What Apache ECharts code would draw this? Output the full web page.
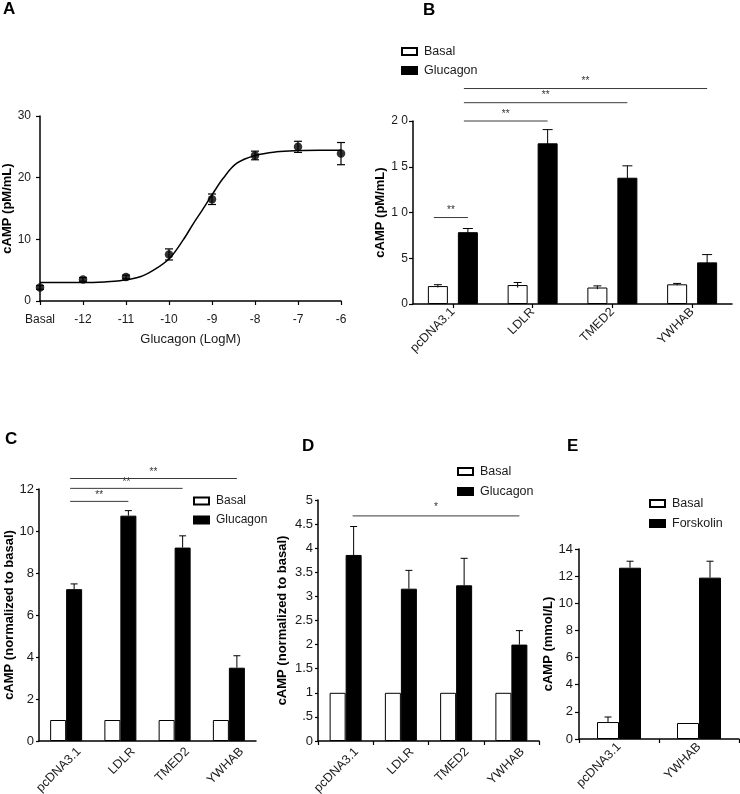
<!DOCTYPE html>
<html><head><meta charset="utf-8">
<script src="https://cdn.jsdelivr.net/npm/echarts/dist/echarts.min.js"></script>
<style>html,body{margin:0;padding:0;background:#fff}#c{width:740px;height:794px}</style>
</head><body><div id="c"></div>
<script>
// ---------- Panel A: dose response ----------
const doseA = [-13, -12, -11, -10, -9, -8, -7, -6];
const doseLabelsA = ['Basal', '-12', '-11', '-10', '-9', '-8', '-7', '-6'];
const meanA = [2.2, 3.5, 3.9, 7.55, 16.5, 23.6, 25.0, 23.9];
const semA = [0.3, 0.3, 0.3, 0.9, 0.85, 0.7, 0.9, 1.8];
const fitX = [-13, -12.5, -12, -11.5, -11.14, -10.67, -10.36, -9.99, -9.67, -9.43, -9.23, -9.0, -8.74, -8.43, -8.0, -7.5, -7.0, -6.5, -6.0];
const fitY = [3.0, 3.0, 3.0, 3.1, 3.29, 3.94, 5.0, 6.9, 9.9, 12.6, 14.7, 17.2, 19.9, 22.3, 23.6, 24.2, 24.4, 24.45, 24.45];

// ---------- Panel B ----------
const catsB = ['pcDNA3.1', 'LDLR', 'TMED2', 'YWHAB'];
const basalB = [1.96, 2.07, 1.8, 2.15];
const basalErrB = [0.15, 0.28, 0.18, 0.1];
const glucB = [7.85, 17.56, 13.8, 4.55];
const glucErrB = [0.4, 1.5, 1.3, 0.85];
const sigB = [[0, 0, 0, 1, 9.45, '**'], [0, 1, 1, 1, 20.0, '**'], [0, 1, 2, 1, 22.0, '**'], [0, 1, 3, 1, 23.55, '**']];

// ---------- Panel C ----------
const catsC = ['pcDNA3.1', 'LDLR', 'TMED2', 'YWHAB'];
const basalC = [1, 1, 1, 1];
const glucC = [7.23, 10.73, 9.21, 3.49];
const glucErrC = [0.25, 0.24, 0.56, 0.57];
const sigC = [[0, 1, 1, 1, 11.41, '**'], [0, 1, 2, 1, 12.03, '**'], [0, 1, 3, 1, 12.5, '**']];

// ---------- Panel D ----------
const catsD = ['pcDNA3.1', 'LDLR', 'TMED2', 'YWHAB'];
const basalD = [1, 1, 1, 1];
const glucD = [3.86, 3.16, 3.23, 2.0];
const glucErrD = [0.59, 0.38, 0.56, 0.29];
const sigD = [[0, 1, 3, 1, 4.67, '*']];

// ---------- Panel E ----------
const catsE = ['pcDNA3.1', 'YWHAB'];
const basalE = [1.25, 1.18];
const basalErrE = [0.37, 0];
const forskE = [12.62, 11.89];
const forskErrE = [0.48, 1.21];

const FONT = "'Liberation Sans', Arial, sans-serif";
const chart = echarts.init(document.getElementById('c'));

function axisLine() { return { show: true, lineStyle: { color: '#000', width: 1.5 } }; }
function tick(len, extra) { return Object.assign({ show: true, inside: false, length: len, lineStyle: { color: '#000', width: 1.2 } }, extra || {}); }

function yAx(g, min, max, interval, name, gap, fs, margin, tlen, fmt) {
  return {
    type: 'value', gridIndex: g, min: min, max: max, interval: interval,
    name: name, nameLocation: 'middle', nameGap: gap, nameRotate: 90,
    nameTextStyle: { fontFamily: FONT, fontWeight: 'bold', fontSize: 13, color: '#000' },
    axisLine: axisLine(), axisTick: tick(tlen), splitLine: { show: false },
    axisLabel: { fontFamily: FONT, fontSize: fs, color: '#1a1a1a', margin: margin, formatter: fmt }
  };
}
// lh: a tall line box with top alignment pushes rotated labels along their normal (down-right)
function xCat(g, cats, fs, tickOpt, margin, lh) {
  const lab = { fontFamily: FONT, fontSize: fs, color: '#1a1a1a', rotate: 45, margin: margin, interval: 0, overflow: 'none' };
  if (lh) { lab.verticalAlign = 'top'; lab.lineHeight = lh; }
  return {
    type: 'category', gridIndex: g, data: cats,
    axisLine: axisLine(), axisTick: tickOpt, splitLine: { show: false },
    axisLabel: lab
  };
}

function errSeries(g, means, errs, off, cap, twoSided) {
  return {
    type: 'custom', xAxisIndex: g, yAxisIndex: g, z: 5, clip: false, silent: true,
    data: means.map((m, i) => [i, m, errs[i]]),
    renderItem: function (params, api) {
      const i = api.value(0), m = api.value(1), e = api.value(2);
      if (!e) return null;
      const base = api.coord([i, m]);
      const x = base[0] + off;
      const yt = api.coord([i, m + e])[1];
      const yb = twoSided ? api.coord([i, m - e])[1] : base[1];
      const st = { stroke: '#000', lineWidth: 1 };
      return { type: 'group', children: [
        { type: 'line', shape: { x1: x, y1: yt, x2: x, y2: yb }, style: st },
        { type: 'line', shape: { x1: x - cap / 2, y1: yt, x2: x + cap / 2, y2: yt }, style: st }
      ] };
    }
  };
}

function sigSeries(g, sig, offs, fs, lift, ext) {
  return {
    type: 'custom', xAxisIndex: g, yAxisIndex: g, z: 6, clip: false, silent: true,
    data: sig.map(s => [s[0], s[4]]),
    renderItem: function (params, api) {
      const s = sig[params.dataIndex];
      const p1 = api.coord([s[0], s[4]]);
      const p2 = api.coord([s[2], s[4]]);
      const x1 = p1[0] + offs[s[1]] - ext, x2 = p2[0] + offs[s[3]];
      const y = p1[1];
      return { type: 'group', children: [
        { type: 'line', shape: { x1: x1, y1: y, x2: x2, y2: y }, style: { stroke: '#3a3a3a', lineWidth: 1 } },
        { type: 'text', style: { x: (x1 + x2) / 2, y: y - lift, text: s[5], align: 'center', verticalAlign: 'bottom', fontFamily: FONT, fontSize: fs, fill: '#333' } }
      ] };
    }
  };
}

const basalStyle = { color: '#fff', borderColor: '#000', borderWidth: 1 };
const blackStyle = { color: '#000', borderColor: '#000', borderWidth: 1 };

function legend(left, top, names, fs, gap) {
  return {
    left: left, top: top, orient: 'vertical', data: names, icon: 'rect',
    itemWidth: 15, itemHeight: 7, itemGap: gap, selectedMode: false, padding: 0,
    textStyle: { fontFamily: FONT, fontSize: fs, color: '#1a1a1a', padding: [0, 0, 0, 2] }
  };
}

function letter(t, left, top) {
  return { type: 'text', left: left, top: top, style: { text: t, font: 'bold 17px ' + FONT, fill: '#000' } };
}

const option = {
  animation: false,
  backgroundColor: '#fff',
  textStyle: { fontFamily: FONT },
  grid: [
    { left: 40, top: 116, width: 301, height: 185, outerBoundsMode: 'none' },
    { left: 413, top: 121, width: 319, height: 183, outerBoundsMode: 'none' },
    { left: 39, top: 489, width: 217, height: 252, outerBoundsMode: 'none' },
    { left: 318, top: 500, width: 221, height: 241, outerBoundsMode: 'none' },
    { left: 579, top: 549, width: 160, height: 190, outerBoundsMode: 'none' }
  ],
  xAxis: [
    {
      type: 'value', gridIndex: 0, min: -13, max: -6, interval: 1,
      name: 'Glucagon (LogM)', nameLocation: 'middle', nameGap: 32,
      nameTextStyle: { fontFamily: FONT, fontSize: 13, color: '#1a1a1a' },
      axisLine: axisLine(), axisTick: tick(4), splitLine: { show: false },
      axisLabel: { fontFamily: FONT, fontSize: 12, color: '#1a1a1a', margin: 13,
        formatter: v => doseLabelsA[doseA.indexOf(Math.round(v))] }
    },
    xCat(1, catsB, 12.5, tick(4, { alignWithLabel: true }), 6, 0),
    xCat(2, catsC, 12.5, { show: false }, -4, 36),
    xCat(3, catsD, 12.5, tick(4), -2, 31),
    xCat(4, catsE, 12.5, tick(4), 6, 0)
  ],
  yAxis: [
    yAx(0, 0, 30, 10, 'cAMP (pM/mL)', 22, 12, 9, 4),
    yAx(1, 0, 20, 5, 'cAMP (pM/mL)', 14, 12, 5, 4, v => v >= 10 ? String(v).split('').join(' ') : String(v)),
    yAx(2, 0, 12, 2, 'cAMP (normalized to basal)', 13, 13, 5, 3),
    yAx(3, 0, 5, 0.5, 'cAMP (normalized to basal)', 29, 13, 5, 3, v => v === 0.5 ? '.5' : String(v)),
    yAx(4, 0, 14, 2, 'cAMP (mmol/L)', 15, 13, 6, 4)
  ],
  legend: [
    legend(401, 45, ['Basal', 'Glucagon'], 12.5, 6),
    legend(193, 495, ['Basal', 'Glucagon'], 12, 7),
    legend(457, 465, ['Basal', 'Glucagon'], 12.5, 7),
    legend(649, 497, ['Basal', 'Forskolin'], 12.5, 7)
  ],
  graphic: [
    letter('A', 3, 1), letter('B', 423, 2), letter('C', 5, 431), letter('D', 302, 438), letter('E', 567, 438)
  ],
  series: [
    // A
    { type: 'line', name: 'fit', xAxisIndex: 0, yAxisIndex: 0, smooth: 0.35, showSymbol: false, silent: true,
      data: fitX.map((x, i) => [x, fitY[i]]), lineStyle: { color: '#000', width: 1.5 }, z: 3 },
    { type: 'custom', xAxisIndex: 0, yAxisIndex: 0, z: 4, silent: true,
      data: doseA.map((x, i) => [x, meanA[i], semA[i]]),
      renderItem: function (params, api) {
        const x = api.value(0), m = api.value(1), e = api.value(2);
        const pt = api.coord([x, m + e]), pb = api.coord([x, m - e]);
        const st = { stroke: '#000', lineWidth: 1.2 };
        return { type: 'group', children: [
          { type: 'line', shape: { x1: pt[0], y1: pt[1], x2: pb[0], y2: pb[1] }, style: st },
          { type: 'line', shape: { x1: pt[0] - 4, y1: pt[1], x2: pt[0] + 4, y2: pt[1] }, style: st },
          { type: 'line', shape: { x1: pb[0] - 4, y1: pb[1], x2: pb[0] + 4, y2: pb[1] }, style: st }
        ] };
      } },
    { type: 'scatter', name: 'mean', xAxisIndex: 0, yAxisIndex: 0, symbolSize: 8.5, z: 5,
      itemStyle: { color: '#000' }, data: doseA.map((x, i) => [x, meanA[i]]) },
    // B
    { type: 'bar', name: 'Basal', xAxisIndex: 1, yAxisIndex: 1, data: basalB, barWidth: 20, barGap: '50%', itemStyle: basalStyle },
    { type: 'bar', name: 'Glucagon', xAxisIndex: 1, yAxisIndex: 1, data: glucB, barWidth: 20, barGap: '50%', itemStyle: blackStyle },
    errSeries(1, basalB, basalErrB, -15, 8, true),
    errSeries(1, glucB, glucErrB, 15, 10, true),
    sigSeries(1, sigB, [-15, 15], 10, 2, 4),
    // C
    { type: 'bar', name: 'Basal', xAxisIndex: 2, yAxisIndex: 2, data: basalC, barWidth: 16, barGap: '0%', itemStyle: basalStyle },
    { type: 'bar', name: 'Glucagon', xAxisIndex: 2, yAxisIndex: 2, data: glucC, barWidth: 16, barGap: '0%', itemStyle: blackStyle },
    errSeries(2, glucC, glucErrC, 8, 7, false),
    sigSeries(2, sigC, [-8, 8], 10, 1, 4),
    // D
    { type: 'bar', name: 'Basal', xAxisIndex: 3, yAxisIndex: 3, data: basalD, barWidth: 16, barGap: '0%', itemStyle: basalStyle },
    { type: 'bar', name: 'Glucagon', xAxisIndex: 3, yAxisIndex: 3, data: glucD, barWidth: 16, barGap: '0%', itemStyle: blackStyle },
    errSeries(3, glucD, glucErrD, 8, 7, false),
    sigSeries(3, sigD, [-8, 8], 10, 4, 1),
    // E
    { type: 'bar', name: 'Basal', xAxisIndex: 4, yAxisIndex: 4, data: basalE, barWidth: 22, barGap: '0%', itemStyle: basalStyle },
    { type: 'bar', name: 'Forskolin', xAxisIndex: 4, yAxisIndex: 4, data: forskE, barWidth: 22, barGap: '0%', itemStyle: blackStyle },
    errSeries(4, basalE, basalErrE, -11, 7, false),
    errSeries(4, forskE, forskErrE, 11, 7, false)
  ]
};
chart.setOption(option);
</script>
</body></html>
